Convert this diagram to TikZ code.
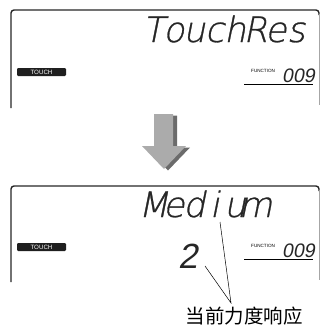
\documentclass[tikz,border=0pt]{standalone}
\usepackage{fontspec}
\setmainfont{Liberation Sans}
\newfontfamily\dotfont{DejaVu Sans ExtraLight}[FakeSlant=0.2,FakeBold=0.8]
\newfontfamily\segfont{Liberation Sans}[FakeSlant=0.18]
\newfontfamily\cjkfont{Noto Sans CJK SC}
\newcommand\dmc[1]{\makebox[20.4pt][c]{#1}}
\begin{document}
\begin{tikzpicture}[x=1pt,y=-1pt,
  frame/.style={line width=1.4pt, draw=black!85, rounded corners=3pt},
  rside/.style={line width=0.8pt, draw=black!35},
  badge/.style={fill=black!88, rounded corners=1.2pt, minimum width=49pt, minimum height=8pt, inner sep=0pt, text=white, font=\fontsize{6.2}{6.2}\selectfont},
  dotm/.style={font=\dotfont\fontsize{35}{35}\selectfont, text=black!85, inner sep=0pt, anchor=base west},
  seg/.style={inner sep=0pt, anchor=base west, text=black!85},
  fn/.style={font=\fontsize{4.6}{4.6}\selectfont, inner sep=0pt, anchor=base west},
  uline/.style={line width=1.1pt},
  leader/.style={line width=0.5pt},
  arrowbody/.style={fill=black!33},
  arrowshade/.style={fill=black!58}]
\useasboundingbox (0,0) rectangle (320,327);
% ---- top panel
\draw[frame] (11,108) -- (11,10) -- (319,10) -- (319,15);
\draw[rside] (319,14) -- (319,105);
\node[dotm] (t1) at (143,42) {\dmc{T}\dmc{o}\dmc{u}\dmc{c}\dmc{h}\dmc{R}\dmc{e}\dmc{s}};
\node[badge] (b1) at (41.5,72) {TOUCH};
\node[fn] (f1) at (251,72) {FUNCTION};
\node[seg, font=\segfont\fontsize{19.5}{19.5}\selectfont] (n1) at (282,82) {009};
\coordinate (u1a) at (244,84.5);
\coordinate (u1b) at (313,84.5);
\draw[uline] (u1a) -- (u1b);
% ---- arrow
\fill[arrowshade] (158,115.5) -- (177,115.5) -- (177,147.5) -- (190,147.5) -- (168,170.5) -- (146,147.5) -- (158,147.5) -- cycle;
\fill[arrowbody] (154,114) -- (173,114) -- (173,146) -- (186,146) -- (164,169) -- (142,146) -- (154,146) -- cycle;
% ---- bottom panel
\draw[frame] (11,282) -- (11,186) -- (319,186) -- (319,191);
\draw[rside] (319,190) -- (319,280);
\node[dotm] (t2) at (143,217) {\dmc{M}\dmc{e}\dmc{d}\dmc{i}\dmc{u}\dmc{m}};
\node[badge] (b2) at (41.5,247) {TOUCH};
\node[fn] (f2) at (251,247) {FUNCTION};
\node[seg, font=\segfont\fontsize{19.5}{19.5}\selectfont] (n2) at (282,257) {009};
\coordinate (u2a) at (244,259.5);
\coordinate (u2b) at (313,259.5);
\draw[uline] (u2a) -- (u2b);
\node[seg, font=\segfont\fontsize{35}{35}\selectfont] (two) at (178,268) {2};
% ---- label
\node[inner sep=0pt, font=\cjkfont\fontsize{19.5}{19.5}\selectfont] (lbl) at (244,316) {当前力度响应};
\coordinate (l1) at (220,222);
\coordinate (l2) at (205,266);
\coordinate (tip) at (231,303);
\draw[leader] (l1) -- (tip) -- (l2);
\end{tikzpicture}
\end{document}
